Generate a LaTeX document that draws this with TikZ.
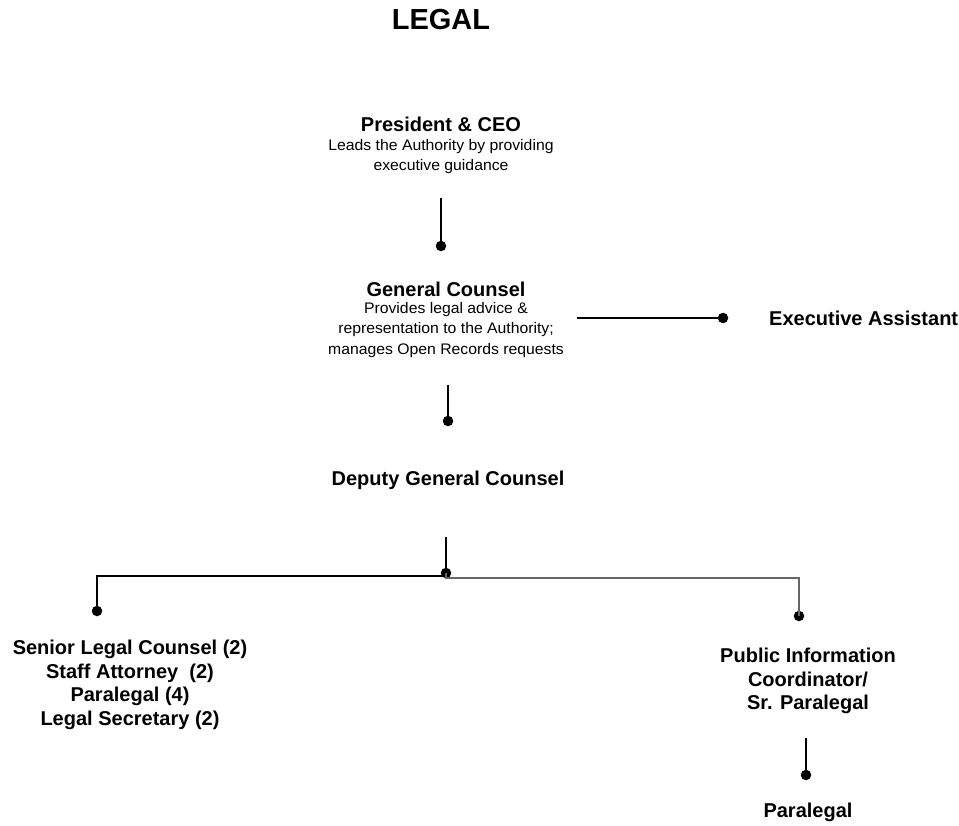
\documentclass[tikz,border=0pt]{standalone}
\usepackage{fontspec}
\setmainfont{Liberation Sans}
\newfontfamily\descfont[FakeStretch=1.03]{Liberation Sans}
\begin{document}
\begin{tikzpicture}[x=1pt,y=-1pt,
  title/.style={font=\fontsize{29}{32}\selectfont\bfseries, inner sep=0pt},
  role/.style={font=\fontsize{20}{23.5}\selectfont\bfseries, align=center, inner sep=0pt},
  desc/.style={font=\descfont\fontsize{15.3}{20.5}\selectfont, align=center, inner sep=0pt},
  dotn/.style={circle, fill=black, inner sep=0pt, minimum size=10.5pt},
  link/.style={line width=1.2pt, black},
  linkgray/.style={line width=2pt, black!60}]
\useasboundingbox (0,0) rectangle (959,826);
\fill[white] (0,0) rectangle (959,826);

\node[title] (legal) at (441,20) {LEGAL};

% President & CEO
\node[role] (pres) at (441,124) {President \& CEO};
\node[desc, anchor=north] (presd) at (441,139) {Leads the Authority by providing\\executive guidance};

% General Counsel
\node[role] (gc) at (446,289) {General Counsel};
\node[desc, anchor=north] (gcd) at (446,302) {Provides legal advice \&\\representation to the Authority;\\manages Open Records requests};

\node[role, anchor=west] (ea) at (769,318) {Executive Assistant};
\node[role] (dgc) at (448,480) {Deputy\hspace{0.3em}General Counsel};

\node[role, anchor=north] (staff) at (130,640) {Senior Legal Counsel (2)\\Staff Attorney~~(2)\\Paralegal (4)\\Legal Secretary (2)};
\node[role, anchor=north] (pic) at (808,648) {Public Information\\Coordinator/\\Sr. Paralegal};
\node[role] (para) at (808,812) {Paralegal};

% connector ends and dots
\coordinate (c1) at (441,198);
\node[dotn] (d1) at (441,246) {};
\coordinate (c2) at (577,318);
\node[dotn] (d2) at (723,318) {};
\coordinate (c3) at (448,385);
\node[dotn] (d3) at (448,421) {};
\coordinate (c4) at (446,537);
\node[dotn] (d4) at (446,573) {};
\node[dotn] (d5) at (97,611) {};
\node[dotn] (d6) at (799,616) {};
\coordinate (c7) at (806,738);
\node[dotn] (d7) at (806,775) {};

\draw[link] (c1) -- (d1.center);
\draw[link] (c2) -- (d2.center);
\draw[link] (c3) -- (d3.center);
\draw[link] (c4) -- (d4.center);
\draw[link] (d4.center) -- (446,576) -| (d5.center);
\draw[linkgray] (d4.center) -- (446,578) -| (d6.center);
\draw[link] (c7) -- (d7.center);
\end{tikzpicture}
\end{document}
